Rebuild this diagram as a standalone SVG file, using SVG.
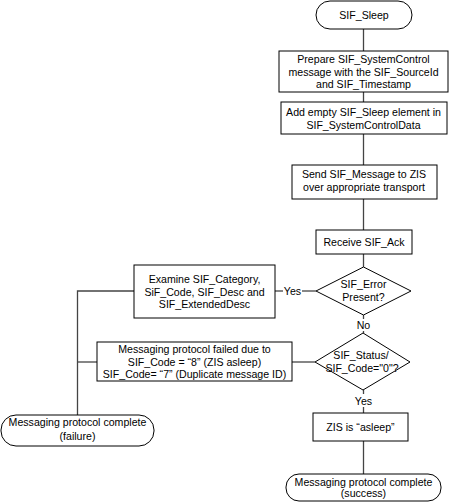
<svg xmlns="http://www.w3.org/2000/svg" width="449" height="503" viewBox="0 0 449 503">
<style>
.shape{fill:#fff;stroke:#000;stroke-width:1}
.conn{fill:none;stroke:#444;stroke-width:1.3}
text{font-family:"Liberation Sans",Arial,sans-serif;font-size:10.6px;fill:#000;text-anchor:middle}
</style>
<rect width="449" height="503" fill="#fff"/>
<g id="connectors">
<line class="conn" x1="363.5" y1="29" x2="363.5" y2="51"/>
<line class="conn" x1="363.5" y1="92" x2="363.5" y2="102"/>
<line class="conn" x1="363.5" y1="134" x2="363.5" y2="165"/>
<line class="conn" x1="363.5" y1="199" x2="363.5" y2="230"/>
<line class="conn" x1="363.5" y1="254" x2="363.5" y2="267"/>
<line class="conn" x1="363.5" y1="315" x2="363.5" y2="319"/>
<line class="conn" x1="363.5" y1="331" x2="363.5" y2="333"/>
<line class="conn" x1="363.5" y1="390" x2="363.5" y2="394"/>
<line class="conn" x1="363.5" y1="407" x2="363.5" y2="413"/>
<line class="conn" x1="363.5" y1="441" x2="363.5" y2="474"/>
<line class="conn" x1="275" y1="291" x2="283" y2="291"/>
<line class="conn" x1="302" y1="291" x2="316" y2="291"/>
<line class="conn" x1="292" y1="362" x2="315" y2="362"/>
<polyline class="conn" points="134,291 77.5,291 77.5,415"/>
<line class="conn" x1="77.5" y1="362" x2="97" y2="362"/>
<text x="292.5" y="295">Yes</text>
<text x="363.5" y="329">No</text>
<text x="363.5" y="405">Yes</text>
</g>
<g id="start">
<rect class="shape" x="316" y="1" width="96" height="28" rx="14"/>
<text x="364" y="19">SIF_Sleep</text>
</g>
<g id="prepare">
<rect class="shape" x="279" y="51" width="169" height="41"/>
<text x="363.5" y="63">Prepare SIF_SystemControl</text>
<text x="363.5" y="75.5">message with the SIF_SourceId</text>
<text x="363.5" y="88">and SIF_Timestamp</text>
</g>
<g id="add">
<rect class="shape" x="281" y="102" width="166" height="32"/>
<text x="363.5" y="116">Add empty SIF_Sleep element in</text>
<text x="363.5" y="128.5">SIF_SystemControlData</text>
</g>
<g id="send">
<rect class="shape" x="292" y="165" width="145" height="34"/>
<text x="364" y="178">Send SIF_Message to ZIS</text>
<text x="364" y="190.5">over appropriate transport</text>
</g>
<g id="receive">
<rect class="shape" x="316" y="230" width="96" height="24"/>
<text x="364" y="246">Receive SIF_Ack</text>
</g>
<g id="error-decision">
<polygon class="shape" points="363.5,267 411,291 363.5,315 316,291"/>
<text x="363.5" y="288">SIF_Error</text>
<text x="363.5" y="301">Present?</text>
</g>
<g id="examine">
<rect class="shape" x="134" y="265" width="141" height="53"/>
<text x="204.5" y="283">Examine SIF_Category,</text>
<text x="204.5" y="295.5">SiF_Code, SIF_Desc and</text>
<text x="204.5" y="308">SIF_ExtendedDesc</text>
</g>
<g id="status-decision">
<polygon class="shape" points="363,333 410,362 363,390 315,362"/>
<text x="361" y="359">SIF_Status/</text>
<text x="362" y="371.5">SIF_Code="0"?</text>
</g>
<g id="failed">
<rect class="shape" x="97" y="342" width="195" height="39"/>
<text x="194.5" y="353">Messaging protocol failed due to</text>
<text x="194.5" y="365.5">SIF_Code = “8” (ZIS asleep)</text>
<text x="194.5" y="378">SIF_Code= “7” (Duplicate message ID)</text>
</g>
<g id="asleep">
<rect class="shape" x="313" y="413" width="95" height="28"/>
<text x="360.5" y="431">ZIS is “asleep”</text>
</g>
<g id="end-failure">
<rect class="shape" x="1" y="415" width="153" height="31" rx="15"/>
<text x="77.5" y="425.5">Messaging protocol complete</text>
<text x="77.5" y="440">(failure)</text>
</g>
<g id="end-success">
<rect class="shape" x="286" y="474" width="155" height="27" rx="13"/>
<text x="363.5" y="485.5">Messaging protocol complete</text>
<text x="363.5" y="497">(success)</text>
</g>
</svg>
